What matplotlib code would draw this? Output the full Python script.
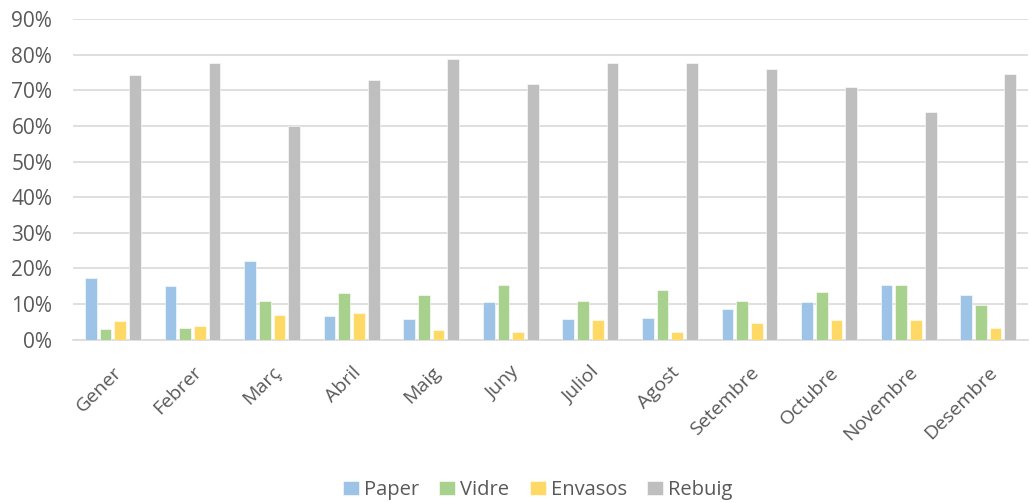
import matplotlib
matplotlib.use("Agg")
import matplotlib.pyplot as plt
import numpy as np
from matplotlib.ticker import PercentFormatter, MultipleLocator

months = ["Gener", "Febrer", "Març", "Abril", "Maig", "Juny", "Juliol",
          "Agost", "Setembre", "Octubre", "Novembre", "Desembre"]
paper = [17.4, 15.1, 22.1, 6.6, 5.9, 10.6, 5.9, 6.0, 8.5, 10.4, 15.4, 12.4]
vidre = [2.9, 3.2, 10.9, 13.0, 12.4, 15.4, 10.9, 13.9, 10.9, 13.3, 15.4, 9.7]
envasos = [5.2, 3.8, 6.9, 7.4, 2.6, 2.2, 5.4, 2.2, 4.7, 5.4, 5.5, 3.3]
rebuig = [74.3, 77.7, 60.0, 73.0, 78.9, 71.8, 77.6, 77.8, 75.9, 70.9, 63.9, 74.5]

series = [("Paper", paper, "#9DC3E6"),
          ("Vidre", vidre, "#A9D18E"),
          ("Envasos", envasos, "#FFD966"),
          ("Rebuig", rebuig, "#BFBFBF")]

plt.rcParams["font.family"] = ["Open Sans", "DejaVu Sans"]
text_color = "#595959"

fig = plt.figure(figsize=(10.30, 5.03), dpi=100)
ax = fig.add_axes([0.071, 0.325, 0.927, 0.637])

x = np.arange(len(months))
slot = 0.185
width = 0.147
for i, (name, vals, color) in enumerate(series):
    offset = (i - 1.5) * slot
    ax.bar(x + offset, vals, width=width, color=color, label=name,
           zorder=3, edgecolor="white", linewidth=0.4)

ax.set_xlim(-0.5, len(months) - 0.5)
ax.set_ylim(0, 90)
ax.yaxis.set_major_locator(MultipleLocator(10))
ax.yaxis.set_major_formatter(PercentFormatter(decimals=0))
ax.grid(axis="y", color="#D9D9D9", linewidth=1.2, zorder=0)
for s in ["top", "right", "left"]:
    ax.spines[s].set_visible(False)
ax.spines["bottom"].set_color("#D9D9D9")
ax.spines["bottom"].set_linewidth(1.2)

ax.set_xticks(x)
ax.set_xticklabels(months, rotation=45, ha="right", rotation_mode="anchor")
ax.tick_params(axis="both", length=0, labelcolor=text_color)
ax.tick_params(axis="x", labelsize=14, pad=17)
ax.tick_params(axis="y", labelsize=15, pad=15)

leg = fig.legend(loc="lower center", bbox_to_anchor=(0.522, -0.03), ncol=4,
                 frameon=False, fontsize=14.5, handlelength=0.8, handleheight=0.7,
                 handletextpad=0.25, columnspacing=1.0)
for t in leg.get_texts():
    t.set_color(text_color)

fig.savefig("out.png", dpi=100)
